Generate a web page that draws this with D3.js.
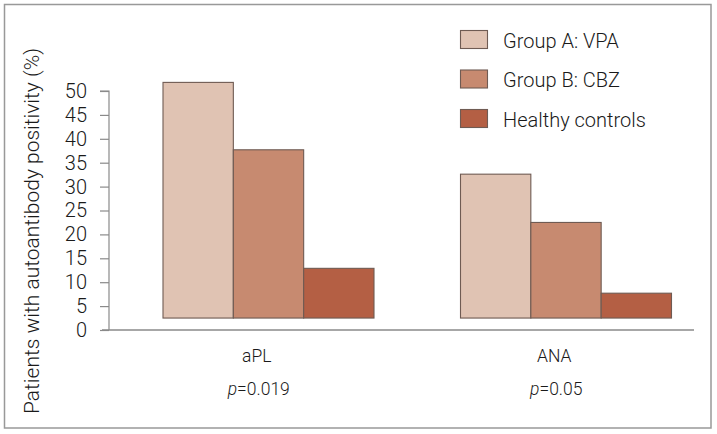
<!DOCTYPE html>
<html><head><meta charset="utf-8">
<script src="https://cdn.jsdelivr.net/npm/d3@7/dist/d3.min.js"></script>
<style>body{margin:0;background:#fff}svg{display:block}text{font-family:Roboto,sans-serif;font-weight:300;fill:#1a1a1a}</style>
</head><body>
<script>
const categories = ["aPL", "ANA"];
const pValues = ["0.019", "0.05"];
const seriesNames = ["Group A: VPA", "Group B: CBZ", "Healthy controls"];
const groupA = [51.8, 32.6];
const groupB = [37.7, 22.5];
const healthy = [12.9, 7.7];
const yTicks = [0, 5, 10, 15, 20, 25, 30, 35, 40, 45, 50];
const barBase = 2.5;
const colors = ["#e0c3b3", "#c78a70", "#b45f44"];

const W = 717, H = 434;
const svg = d3.select("body").append("svg").attr("width", W).attr("height", H);
svg.append("rect").attr("x", 4.5).attr("y", 4.5).attr("width", 706.5).attr("height", 423.5)
  .attr("fill", "#fff").attr("stroke", "#999").attr("stroke-width", 1.5);

const y = d3.scaleLinear().domain([0, 50]).range([330, 91]);
const x0 = d3.scaleBand().domain(categories).range([110, 705]);
const x1 = d3.scaleBand().domain(seriesNames).range([53, 264]);

// baseline
svg.append("line").attr("x1", 102).attr("x2", 694).attr("y1", y(0)).attr("y2", y(0))
  .attr("stroke", "#8a8a8a").attr("stroke-width", 1.3);

// y axis
const yAxis = d3.axisLeft(y).tickValues(yTicks).tickSize(9).tickPadding(13);
const gy = svg.append("g").attr("transform", "translate(109,0)").call(yAxis);
gy.select(".domain").attr("stroke", "#8a8a8a").attr("stroke-width", 1.2).attr("d", `M-9,${y(50)}H0V${y(0)}`);
gy.selectAll(".tick line").attr("stroke", "#8a8a8a").attr("stroke-width", 1.2);
gy.selectAll(".tick text").attr("font-size", 20).attr("font-family", "Roboto,sans-serif").attr("fill", "#1a1a1a");

// y title
svg.append("text").attr("transform", `translate(39,231) rotate(-90)`).attr("text-anchor", "middle")
  .attr("font-size", 21).text("Patients with autoantibody positivity (%)");

const series = [groupA, groupB, healthy];
const data = [];
categories.forEach((c, i) => series.forEach((s, j) => data.push({cat: c, name: seriesNames[j], v: s[i], j})));

svg.append("g").selectAll("rect").data(data).join("rect")
  .attr("x", d => x0(d.cat) + x1(d.name))
  .attr("width", x1.bandwidth())
  .attr("y", d => y(d.v))
  .attr("height", d => y(barBase) - y(d.v))
  .attr("fill", d => colors[d.j])
  .attr("stroke", "#6f5b53").attr("stroke-width", 1.1);

// category labels
categories.forEach((c, i) => {
  const cx = x0(c) + x0.bandwidth() / 2 - 2;
  svg.append("text").attr("x", cx).attr("y", 362).attr("text-anchor", "middle").attr("font-size", 17.5).text(c);
  const t = svg.append("text").attr("x", cx + 2).attr("y", 395).attr("text-anchor", "middle").attr("font-size", 17.5);
  t.append("tspan").attr("font-style", "italic").text("p");
  t.append("tspan").text("=" + pValues[i]);
});

// legend
const lg = svg.append("g");
seriesNames.forEach((n, j) => {
  const yy = 30 + j * 39.5;
  lg.append("rect").attr("x", 460.5).attr("y", yy + 0.5).attr("width", 27).attr("height", 18)
    .attr("fill", colors[j]).attr("stroke", "#6f5b53").attr("stroke-width", 1.1);
  lg.append("text").attr("x", 503).attr("y", yy + 17.5).attr("font-size", 20).text(n);
});
</script>
</body></html>
